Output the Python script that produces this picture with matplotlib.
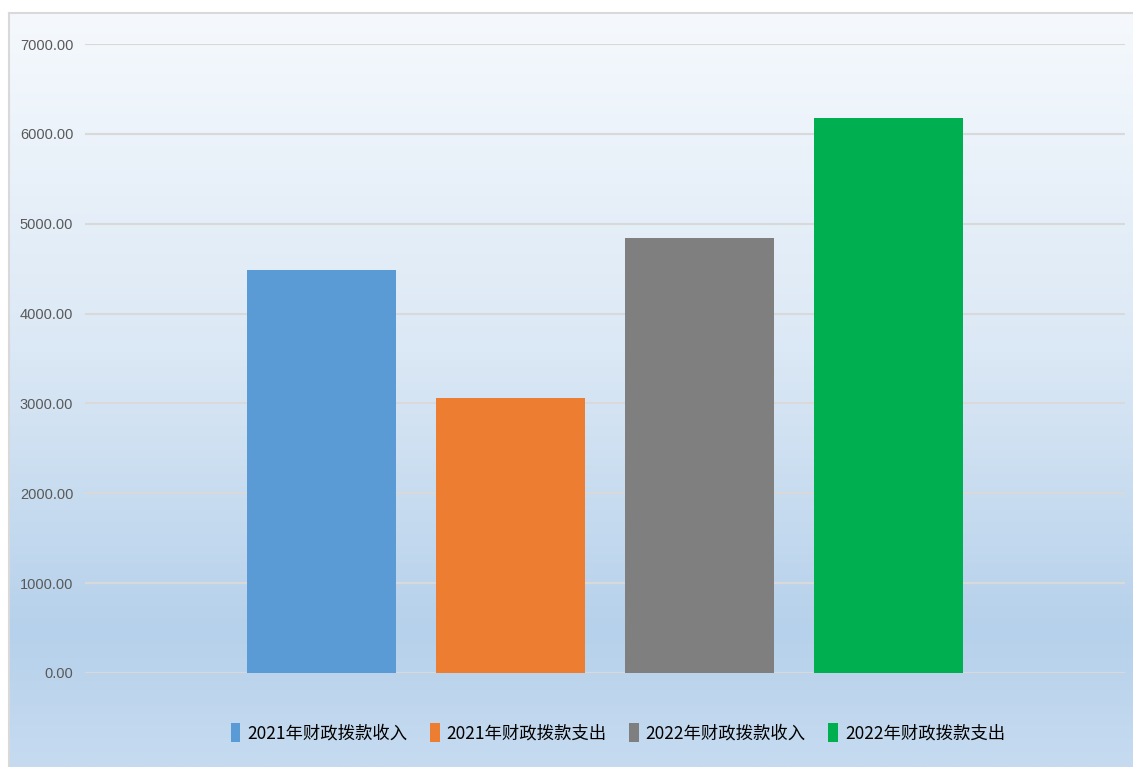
import numpy as np
import matplotlib.pyplot as plt
from matplotlib.colors import LinearSegmentedColormap
from matplotlib.patches import Patch

plt.rcParams['font.family'] = ['Noto Sans CJK SC', 'DejaVu Sans']

series = ['2021年财政拨款收入', '2021年财政拨款支出', '2022年财政拨款收入', '2022年财政拨款支出']
values = [4480, 3055, 4840, 6175]
colors = ['#5b9bd5', '#ed7d31', '#7f7f7f', '#00b050']
yticks = [0, 1000, 2000, 3000, 4000, 5000, 6000, 7000]

W, H = 1133, 767
fig = plt.figure(figsize=(W / 100, H / 100), dpi=100)
fig.patch.set_facecolor('white')

# gradient background inside the chart frame
bg = fig.add_axes([9 / W, 0, 1 - 9 / W, 1 - 13 / H], zorder=0)
cmap = LinearSegmentedColormap.from_list(
    'bg', [(0, '#f5f9fd'), (0.45, '#dbe8f5'), (0.82, '#b6d1eb'), (1, '#c6dbf0')])
grad = np.linspace(0, 1, 256).reshape(-1, 1)
bg.imshow(grad, aspect='auto', cmap=cmap, extent=[0, 1, 0, 1], origin='upper')
bg.set_xlim(0, 1)
bg.set_ylim(0, 1)
bg.set_xticks([])
bg.set_yticks([])
for name, sp in bg.spines.items():
    sp.set_color('#d9d9d9')
    sp.set_linewidth(1.5)
bg.spines['bottom'].set_visible(False)
bg.spines['right'].set_visible(False)

ax = fig.add_axes([85 / W, 1 - 673 / H, (1125 - 85) / W, (673 - 44) / H], zorder=1)
ax.patch.set_alpha(0)
x = np.arange(len(values))
ax.bar(x, values, width=0.79, color=colors, zorder=3, edgecolor='none')
ax.set_xlim(-1.251, 4.251)
ax.set_ylim(0, 7000)
ax.set_yticks(yticks)
ax.set_yticklabels([f'{v:.2f}' for v in yticks], color='#595959',
                   fontsize=10.5, family=['Liberation Sans', 'DejaVu Sans'])
ax.tick_params(axis='y', length=0, pad=8.5)
ax.set_xticks([])
ax.grid(axis='y', color='#d9d9d9', linewidth=1.5, zorder=0)
for sp in ax.spines.values():
    sp.set_visible(False)

handles = [Patch(facecolor=c, edgecolor='none') for c in colors]
fig.legend(handles, series, loc='center', bbox_to_anchor=(618 / W, 1 - 733 / H),
           ncol=4, frameon=False, fontsize=12.5, handlelength=0.55, handleheight=1.3,
           handletextpad=0.4, columnspacing=1.3, labelcolor='black')

fig.savefig('out.png', dpi=100)
